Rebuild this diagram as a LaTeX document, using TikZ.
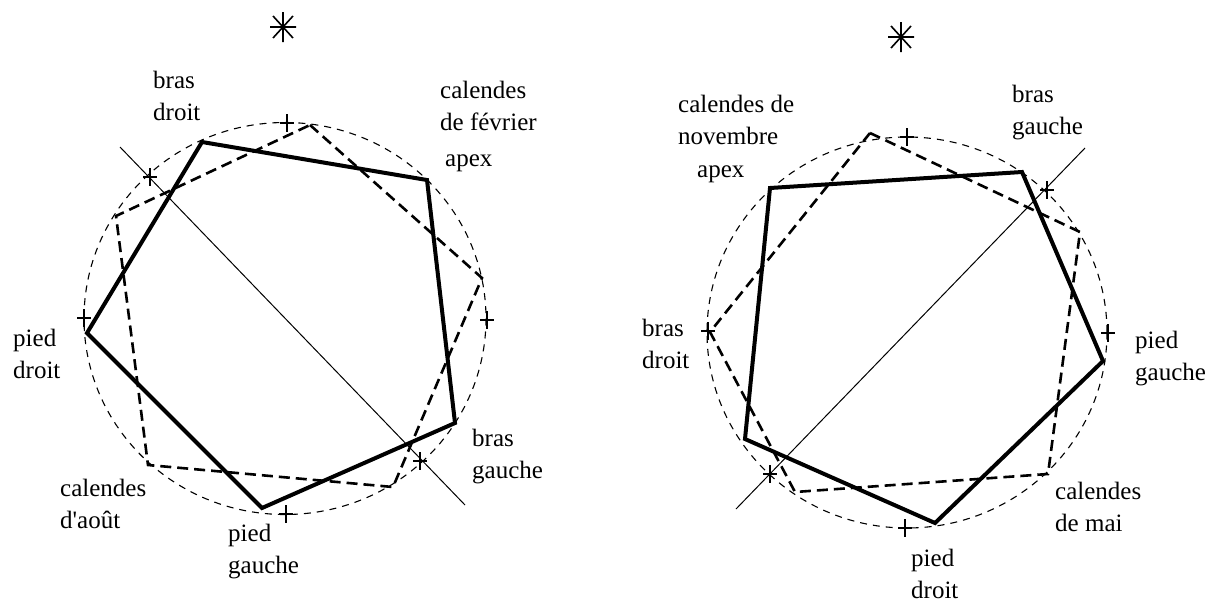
\documentclass[tikz,border=0pt]{standalone}
\usepackage{fontspec}
\setmainfont{Liberation Serif}
\begin{document}
\begin{tikzpicture}[x=1pt,y=-1pt,
  solidpent/.style={line width=4pt, line join=miter},
  dashpent/.style={line width=2.6pt, dash pattern=on 11pt off 6pt},
  circ/.style={line width=1.1pt, dash pattern=on 7pt off 6pt},
  axisline/.style={line width=1pt},
  tickline/.style={line width=1.2pt},
  lbl/.style={inner sep=0pt, anchor=north west, align=left, font=\fontsize{25}{32}\selectfont},
  plusmark/.pic={\draw[tickline] (-7,0) -- (7,0) (0,-9) -- (0,9);},
  starmark/.pic={\draw[line width=1.6pt] (0,-15) -- (0,15) (-13,0) -- (13,0) (-10,-11) -- (10,11) (-10,11) -- (10,-11);}
]
\useasboundingbox (0,0) rectangle (1220,603);

% ---------------- left diagram ----------------
\coordinate (Lc) at (285,318.5);
\draw[circ] (Lc) ellipse [x radius=201, y radius=196];
\pic at (283,27) {starmark};
% solid pentagon
\coordinate (Lbd) at (202,142);
\coordinate (Lap) at (427,180);
\coordinate (Lbg) at (455,423);
\coordinate (Lpg) at (262,508);
\coordinate (Lpd) at (87,333);
\draw[solidpent] (Lbd) -- (Lap) -- (Lbg) -- (Lpg) -- (Lpd) -- cycle;
% dashed pentagon
\coordinate (Ld1) at (310,125);
\coordinate (Ld2) at (482,278);
\coordinate (Ld3) at (393,487);
\coordinate (Ld4) at (148,465);
\coordinate (Ld5) at (116,216);
\draw[dashpent] (Ld1) -- (Ld2) -- (Ld3) -- (Ld4) -- (Ld5) -- cycle;
% axis
\coordinate (La1) at (120,147);
\coordinate (La2) at (465,505);
\draw[axisline] (La1) -- (La2);
% marks
\pic at (287,123) {plusmark};
\pic at (487,320) {plusmark};
\pic at (286,514) {plusmark};
\pic at (84,318) {plusmark};
\pic at (150,177) {plusmark};
\pic at (420,461) {plusmark};
% labels
\node[lbl] (tLbd) at (153,65.6) {\strut bras\\droit};
\node[lbl] (tLcf) at (440,75.6) {\strut calendes\\de février};
\node[lbl] (tLap) at (445,143.6) {\strut apex};
\node[lbl] (tLpd) at (13,323.6) {\strut pied\\droit};
\node[lbl] (tLca) at (60,473.6) {\strut calendes\\d\textquotesingle août};
\node[lbl] (tLpg) at (228,518.6) {\strut pied\\gauche};
\node[lbl] (tLbg) at (472,423.6) {\strut bras\\gauche};

% ---------------- right diagram ----------------
\coordinate (Rc) at (907,332.5);
\draw[circ] (Rc) ellipse [x radius=200, y radius=195.5];
\pic at (901,37) {starmark};
% solid pentagon
\coordinate (Rap) at (770,188);
\coordinate (Rbg) at (1022,172);
\coordinate (Rpg) at (1103,361);
\coordinate (Rpd) at (935,523);
\coordinate (Rbd) at (745,439);
\draw[solidpent] (Rap) -- (Rbg) -- (Rpg) -- (Rpd) -- (Rbd) -- cycle;
% dashed pentagon
\coordinate (Rd1) at (870,133);
\coordinate (Rd2) at (1080,232);
\coordinate (Rd3) at (1048,474);
\coordinate (Rd4) at (795,492);
\coordinate (Rd5) at (710,332);
\draw[dashpent] (Rd1) -- (Rd2) -- (Rd3) -- (Rd4) -- (Rd5) -- cycle;
% axis
\coordinate (Ra1) at (1085,148);
\coordinate (Ra2) at (736,509);
\draw[axisline] (Ra1) -- (Ra2);
% marks
\pic at (907,137) {plusmark};
\pic at (1108,333) {plusmark};
\pic at (905,528) {plusmark};
\pic at (708,331) {plusmark};
\pic at (1047,190) {plusmark};
\pic at (770,474) {plusmark};
% labels
\node[lbl] (tRcn) at (678,89.6) {\strut calendes de\\novembre};
\node[lbl] (tRap) at (697,154.6) {\strut apex};
\node[lbl] (tRbg) at (1012,79.6) {\strut bras\\gauche};
\node[lbl] (tRbd) at (642,313.6) {\strut bras\\droit};
\node[lbl] (tRpg) at (1135,325.6) {\strut pied\\gauche};
\node[lbl] (tRcm) at (1055,476.6) {\strut calendes\\de mai};
\node[lbl] (tRpd) at (911,543.6) {\strut pied\\droit};
\end{tikzpicture}
\end{document}
